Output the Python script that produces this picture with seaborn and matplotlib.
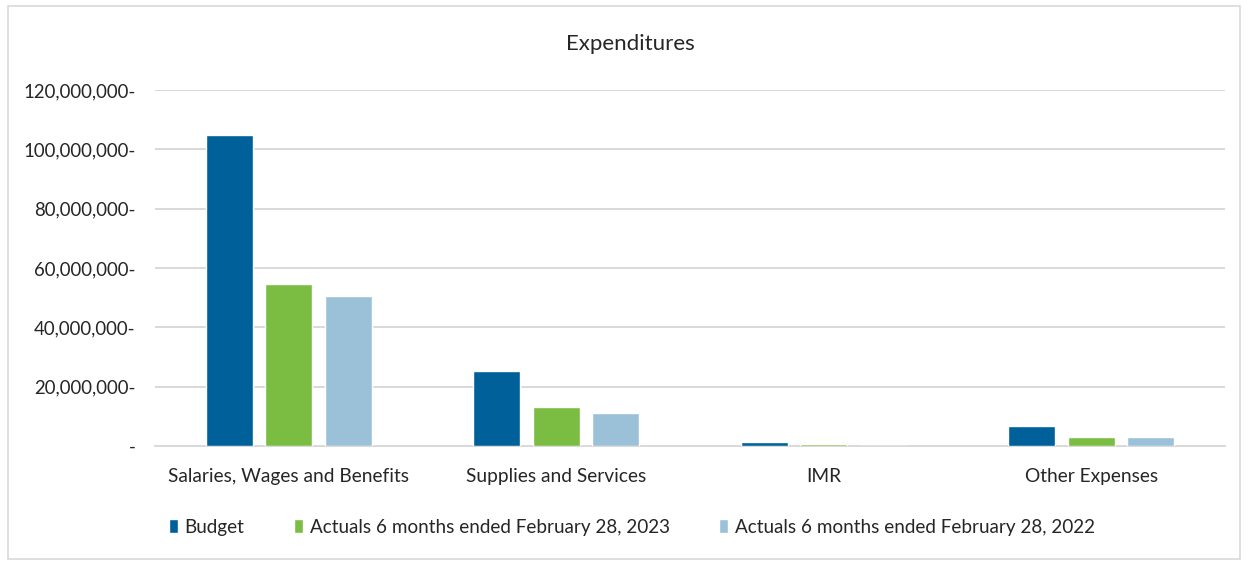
import matplotlib
matplotlib.use("Agg")
import matplotlib.pyplot as plt
import seaborn as sns
import pandas as pd
from matplotlib.patches import Rectangle

categories = ["Salaries, Wages and Benefits", "Supplies and Services", "IMR", "Other Expenses"]
series_names = ["Budget", "Actuals 6 months ended February 28, 2023", "Actuals 6 months ended February 28, 2022"]
budget = [104700000, 25300000, 1200000, 6700000]
actual_2023 = [54500000, 13200000, 800000, 2900000]
actual_2022 = [50500000, 11200000, 0, 3000000]
colors = ["#00609A", "#7ABD42", "#9BC1D9"]
yticks = [0, 20000000, 40000000, 60000000, 80000000, 100000000, 120000000]

rows = []
for name, vals in zip(series_names, [budget, actual_2023, actual_2022]):
    for c, v in zip(categories, vals):
        rows.append({"Category": c, "Series": name, "Value": v})
df = pd.DataFrame(rows)

sns.set_theme(style="white")
plt.rcParams['font.family'] = ['Lato', 'DejaVu Sans']

fig = plt.figure(figsize=(12.48, 5.61), dpi=100)
ax = fig.add_axes([155/1248, 1-446/561, (1225-155)/1248, (446-90)/561])

sns.barplot(data=df, x="Category", y="Value", hue="Series", palette=colors,
            width=0.667, gap=0.21, ax=ax, saturation=1, legend=True)

ax.set_ylim(0, 120000000)
ax.set_xlim(-0.5, 3.5)
ax.set_yticks(yticks)
ax.set_yticklabels([("{:,}-".format(v) if v else "-") for v in yticks], fontsize=13.4, color="#262626")
ax.tick_params(axis='y', length=0, pad=14)
ax.tick_params(axis='x', length=0, pad=16, labelsize=13.8, labelcolor="#262626")
ax.yaxis.grid(True, color="#D9D9D9", linewidth=1.4)
ax.set_axisbelow(True)
for s in ["top", "right", "left"]:
    ax.spines[s].set_visible(False)
ax.spines["bottom"].set_color("#D9D9D9")
ax.spines["bottom"].set_linewidth(1.4)
ax.spines["bottom"].set_zorder(0.5)
for p in ax.patches:
    p.set_zorder(2)
ax.set_xlabel("")
ax.set_ylabel("")

fig.text(630/1248, 1-44/561, "Expenditures", ha="center", va="center", fontsize=16, color="#262626")

handles, labels = ax.get_legend_handles_labels()
ax.get_legend().remove()
leg = fig.legend(handles, labels, loc="center left", bbox_to_anchor=(161/1248, 1-527/561),
                 ncol=3, frameon=False, fontsize=13.6, handlelength=0.5, handleheight=0.7,
                 handletextpad=0.35, columnspacing=2.6, borderaxespad=0)
for t in leg.get_texts():
    t.set_color("#262626")

fig.patches.append(Rectangle((8/1248, 0.003), 1-16/1248, 1-8/561, transform=fig.transFigure,
                             fill=False, edgecolor="#D9D9D9", linewidth=1.2))

fig.savefig("out.png", dpi=100)
